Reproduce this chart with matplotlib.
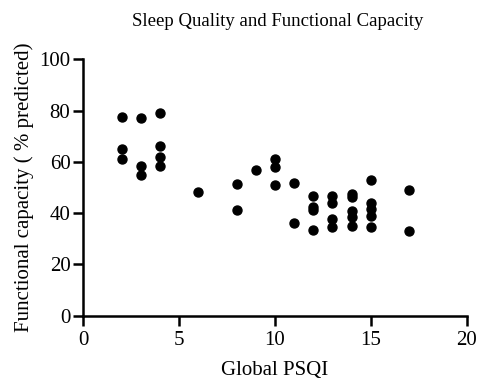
import matplotlib
matplotlib.use("Agg")
import matplotlib.pyplot as plt

psqi = [2, 2, 2, 3, 3, 3, 4, 4, 4, 4, 6, 8, 8, 9, 10, 10, 10, 11, 11,
        12, 12, 12, 12, 13, 13, 13, 13, 14, 14, 14, 14, 14,
        15, 15, 15, 15, 15, 17, 17]
capacity = [77.4, 65.0, 61.0, 77.1, 58.5, 54.8, 78.9, 66.2, 61.8, 58.4,
            48.1, 51.2, 41.1, 56.8, 61.1, 58.1, 51.1, 51.6, 36.0,
            46.8, 42.5, 41.2, 33.4, 46.8, 44.1, 37.6, 34.5,
            47.3, 46.2, 41.0, 38.6, 35.1,
            52.8, 44.1, 41.5, 38.9, 34.7, 49.1, 32.9]
xticks = [0, 5, 10, 15, 20]
yticks = [0, 20, 40, 60, 80, 100]

plt.rcParams['font.family'] = ['Liberation Serif', 'DejaVu Serif']

fig = plt.figure(figsize=(4.78, 3.83), dpi=100)
ax = fig.add_axes([0.174, 0.1755, 0.802, 0.6695])
ax.scatter(psqi, capacity, s=42, color='black', zorder=3, clip_on=False)
ax.set_xlim(0, 20)
ax.set_ylim(0, 100)
ax.set_xticks(xticks)
ax.set_yticks(yticks)
for s in ['top', 'right']:
    ax.spines[s].set_visible(False)
for s in ['left', 'bottom']:
    ax.spines[s].set_linewidth(1.8)
ax.tick_params(width=1.8, length=7.2, labelsize=15, direction='out')
ax.tick_params(axis='x', pad=4)
ax.tick_params(axis='y', pad=2)
ax.set_xlabel('Global PSQI', fontsize=15, labelpad=8)
ax.set_ylabel('Functional capacity ( % predicted)', fontsize=15, labelpad=4)
fig.text(0.58, 0.945, 'Sleep Quality and Functional Capacity', ha='center', va='center', fontsize=13.5)
fig.savefig('out.png', dpi=100)
